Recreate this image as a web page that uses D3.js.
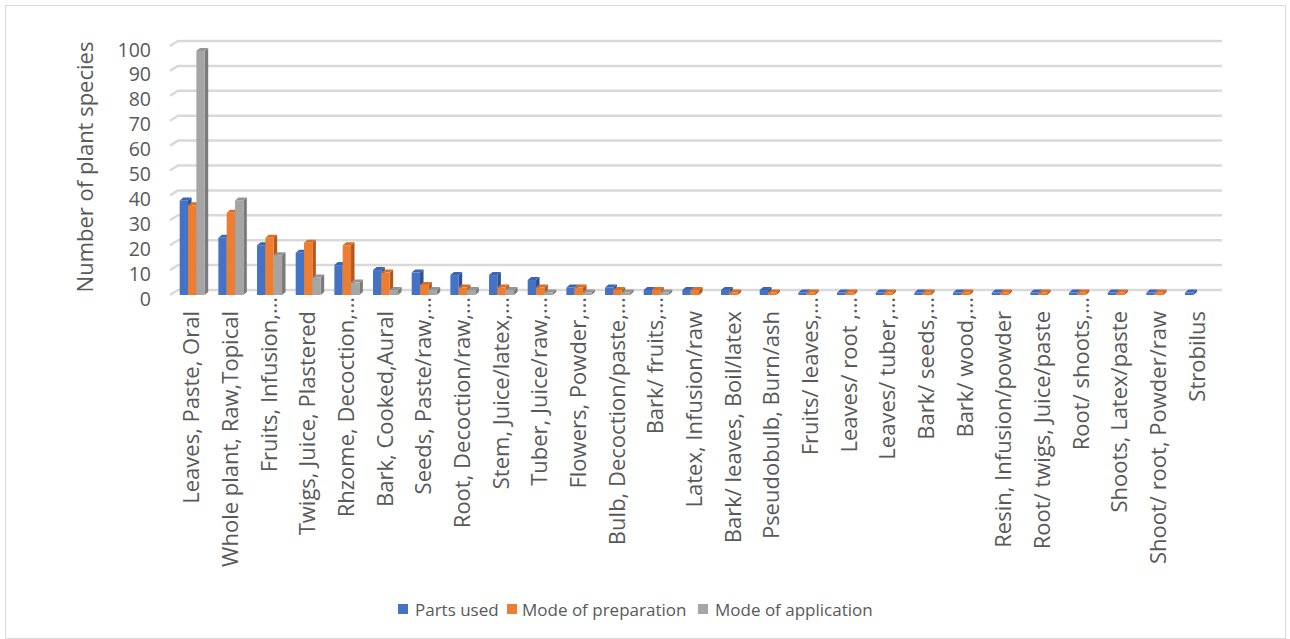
<!DOCTYPE html>
<html><head><meta charset="utf-8">
<script src="https://cdn.jsdelivr.net/npm/d3@7/dist/d3.min.js"></script>
<style>body{margin:0;background:#fff}svg{display:block}text{font-family:"Open Sans",sans-serif;fill:#595959}</style>
</head><body><svg id="c" width="1290" height="639"></svg>
<script>
const categories = ["Leaves, Paste, Oral","Whole plant, Raw,Topical","Fruits, Infusion,…","Twigs, Juice, Plastered","Rhzome, Decoction,…","Bark, Cooked,Aural","Seeds, Paste/raw,…","Root, Decoction/raw,…","Stem, Juice/latex,…","Tuber, Juice/raw,…","Flowers, Powder,…","Bulb, Decoction/paste,…","Bark/ fruits,…","Latex, Infusion/raw","Bark/ leaves, Boil/latex","Pseudobulb, Burn/ash","Fruits/ leaves,…","Leaves/ root ,…","Leaves/ tuber,…","Bark/ seeds,…","Bark/ wood,…","Resin, Infusion/powder","Root/ twigs, Juice/paste","Root/ shoots,…","Shoots, Latex/paste","Shoot/ root, Powder/raw","Strobilus"];
const seriesNames = ["Parts used","Mode of preparation","Mode of application"];
const partsUsed = [38,23,20,17,12,10,9,8,8,6,3,3,2,2,2,2,1,1,1,1,1,1,1,1,1,1,1];
const modePreparation = [36,33,23,21,20,9,4,3,3,3,3,2,2,2,1,1,1,1,1,1,1,1,1,1,1,1,0];
const modeApplication = [98,38,16,7,5,2,2,2,2,1,1,1,1,0,0,0,0,0,0,0,0,0,0,0,0,0,0];
const yTicks = [0,10,20,30,40,50,60,70,80,90,100];
const colors = {front:["#4472C4","#ED7D31","#A5A5A5"], side:["#2F528F","#B5591A","#7B7B7B"], top:["#3A66B8","#D96F25","#959595"]};

const svg = d3.select("#c");
svg.append("rect").attr("x",5.5).attr("y",5.5).attr("width",1280).attr("height",633)
  .attr("fill","#fff").attr("stroke","#d9d9d9").attr("stroke-width",1);

const yFront = d3.scaleLinear().domain([0,100]).range([295,46]);
const yBack = d3.scaleLinear().domain([0,100]).range([290,41]);
const x = d3.scaleBand().domain(categories).range([173,1217]).paddingInner(0).paddingOuter(0);
const xs = d3.scaleBand().domain(seriesNames).range([6.7,31.7]);
const backX0 = 178, backX1 = 1222, frontX0 = 170;
const depthX = 3.5, depthY = -3;

// gridlines
const g = svg.append("g");
yTicks.forEach(v=>{
  g.append("path").attr("d",`M${frontX0},${yFront(v)}L${backX0},${yBack(v)}L${backX1},${yBack(v)}`)
   .attr("fill","none").attr("stroke","#d9d9d9").attr("stroke-width",2.5).attr("stroke-linejoin","round");
});
// y tick labels
svg.append("g").selectAll("text").data(yTicks).join("text")
  .attr("x",151).attr("y",d=>yFront(d)+3).attr("text-anchor","end")
  .attr("dominant-baseline","central").style("font-size","19.5px").text(d=>d);
// y title
svg.append("text").attr("transform","translate(93,167) rotate(-90)")
  .attr("text-anchor","middle").style("font-size","22px").text("Number of plant species");

// bars
const series = [partsUsed, modePreparation, modeApplication];
const bars = svg.append("g");
categories.forEach((c,i)=>{
  series.forEach((arr,s)=>{
    const v = arr[i];
    if(!v) return;
    const x0 = x(c)+xs(seriesNames[s]), w = xs.bandwidth();
    const yb = yFront(0), yt = yFront(v);
    bars.append("path").attr("d",`M${x0+w},${yt}L${x0+w+depthX},${yt+depthY}L${x0+w+depthX},${yb+depthY}L${x0+w},${yb}Z`).attr("fill",colors.side[s]);
    bars.append("path").attr("d",`M${x0},${yt}L${x0+depthX},${yt+depthY}L${x0+w+depthX},${yt+depthY}L${x0+w},${yt}Z`).attr("fill",colors.top[s]);
    bars.append("rect").attr("x",x0).attr("y",yt).attr("width",w).attr("height",yb-yt).attr("fill",colors.front[s]);
  });
});

// category labels
svg.append("g").selectAll("text").data(categories).join("text")
  .attr("transform",d=>`translate(${x(d)+x.bandwidth()/2+7},${d.endsWith("…")?297:311}) rotate(-90)`)
  .attr("text-anchor","end").style("font-size","22px").text(d=>d);

// legend
const legX = [398,507,698], legTX=[415,522,715];
seriesNames.forEach((n,s)=>{
  svg.append("rect").attr("x",legX[s]).attr("y",604).attr("width",10).attr("height",10).attr("fill",colors.front[s]);
  svg.append("text").attr("x",legTX[s]).attr("y",609).attr("dominant-baseline","central").style("font-size","17px").text(n);
});
</script></body></html>
